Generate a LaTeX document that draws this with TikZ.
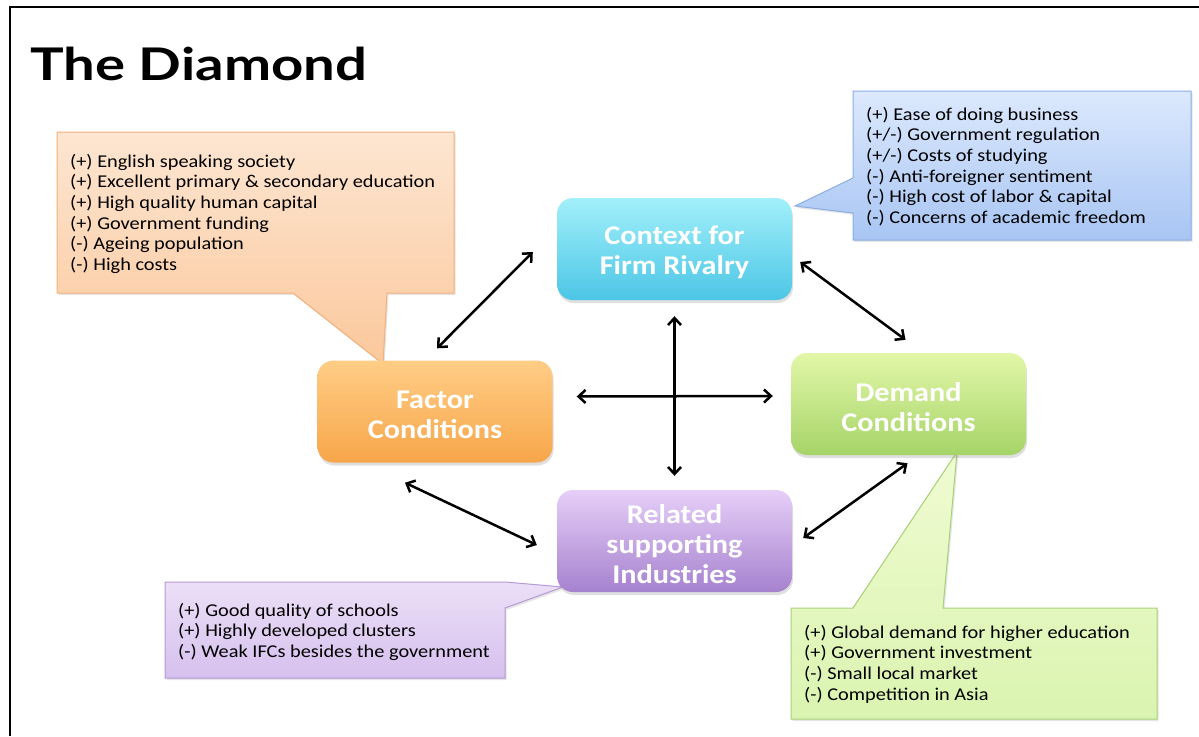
\documentclass[tikz,border=0pt]{standalone}
\usepackage{fontspec}
\setmainfont{Carlito}[FakeStretch=1.12]
\newfontfamily\calfont{Carlito}[FakeStretch=1.13]
\newfontfamily\titlefont{Lato}[FakeStretch=1.25]
\usetikzlibrary{shadows,arrows.meta}
\definecolor{cyanT}{HTML}{A2F0FA}
\definecolor{cyanB}{HTML}{4CC6E6}
\definecolor{oraT}{HTML}{FFCD85}
\definecolor{oraB}{HTML}{F7A64A}
\definecolor{grnT}{HTML}{E2F7A8}
\definecolor{grnB}{HTML}{A6D468}
\definecolor{purT}{HTML}{E6CFF8}
\definecolor{purB}{HTML}{A682CE}
\definecolor{coT}{HTML}{FDE6D2}
\definecolor{coB}{HTML}{FBC89C}
\definecolor{coD}{HTML}{F4B078}
\definecolor{cbT}{HTML}{DCE9FD}
\definecolor{cbB}{HTML}{A8C5F3}
\definecolor{cbD}{HTML}{8AAEE4}
\definecolor{cpT}{HTML}{ECDFF7}
\definecolor{cpB}{HTML}{D6C0EE}
\definecolor{cpD}{HTML}{B49AD6}
\definecolor{cgT}{HTML}{F0FBD2}
\definecolor{cgB}{HTML}{DAF4B0}
\definecolor{cgD}{HTML}{A8D27A}
\begin{document}
\begin{tikzpicture}[x=1pt,y=-1pt,
  box/.style={rounded corners=16pt, text=white, align=center, inner sep=0pt,
    minimum width=235pt, minimum height=102pt,
    font=\bfseries\fontsize{27}{30}\selectfont,
    drop shadow={opacity=0.25, shadow xshift=1pt, shadow yshift=-3pt}},
  callout/.style={line width=1pt, drop shadow={opacity=0.2, shadow xshift=1.5pt, shadow yshift=-2pt}},
  ctext/.style={anchor=north west, align=left, inner sep=0pt, font=\calfont\fontsize{18}{20.6}\selectfont},
  dbl/.style={line width=2.5pt, {Straight Barb[length=7pt,width=13pt,line width=2.5pt]}-{Straight Barb[length=7pt,width=13pt,line width=2.5pt]}}
]
\useasboundingbox (0,0) rectangle (1199,736);
\fill[white] (0,0) rectangle (1199,736);
\draw[line width=2pt] (10,736) -- (10,7) -- (1199,7);

\node[anchor=base west, inner sep=0pt, font=\titlefont\bfseries\fontsize{45}{45}\selectfont] (title) at (30,80) {The Diamond};

% callouts
\path[callout, draw=coD, top color=coT, bottom color=coB]
  (57,132) -- (454,132) -- (454,293) -- (387,293) -- (383,364) -- (293,293) -- (57,293) -- cycle;
\node[ctext] (ftxt) at (70,154) {(+) English speaking society\\(+) Excellent primary \& secondary education\\(+) High quality human capital\\(+) Government funding\\(-) Ageing population\\(-) High costs};

\path[callout, draw=cbD, top color=cbT, bottom color=cbB]
  (853,91) -- (1191,91) -- (1191,240) -- (853,240) -- (853,213) -- (795,206) -- (853,178) -- cycle;
\node[ctext] (ctxt) at (866,107) {(+) Ease of doing business\\(+/-) Government regulation\\(+/-) Costs of studying\\(-) Anti-foreigner sentiment\\(-) High cost of labor \& capital\\(-) Concerns of academic freedom};

\path[callout, draw=cpD, top color=cpT, bottom color=cpB]
  (165,582) -- (505,582) -- (563,587) -- (505,608) -- (505,678) -- (165,678) -- cycle;
\node[ctext] (rtxt) at (178,603) {(+) Good quality of schools\\(+) Highly developed clusters\\(-) Weak IFCs besides the government};

\path[callout, draw=cgD, top color=cgT, bottom color=cgB]
  (791,608) -- (853,608) -- (957,452) -- (943,608) -- (1157,608) -- (1157,719) -- (791,719) -- cycle;
\node[ctext] (dtxt) at (804,625) {(+) Global demand for higher education\\(+) Government investment\\(-) Small local market\\(-) Competition in Asia};

% main boxes
\node[box, top color=cyanT, bottom color=cyanB] (ctx) at (674.5,249) {\rule{0pt}{26pt}Context for\\Firm Rivalry};
\node[box, top color=oraT, bottom color=oraB] (fac) at (435,411.5) {\rule{0pt}{25pt}Factor\\Conditions};
\node[box, top color=grnT, bottom color=grnB] (dem) at (908.5,404) {\rule{0pt}{25pt}Demand\\Conditions};
\node[box, top color=purT, bottom color=purB] (rel) at (674.5,541) {\rule{0pt}{26pt}Related\\supporting\\Industries};

% arrows
\draw[dbl] ([shift={(2,-12)}]fac.north) -- ([shift={(-24,3)}]ctx.west);
\draw[dbl] ([shift={(8,13)}]ctx.east) -- ([shift={(-3,-13)}]dem.north);
\draw[dbl] ([shift={(24,-15)}]fac.east) -- ([shift={(-18,-8)}]dem.west);
\draw[dbl] ([shift={(0,16)}]ctx.south) -- ([shift={(0,-14)}]rel.north);
\draw[dbl] ([shift={(-30,20)}]fac.south) -- ([shift={(-20,4)}]rel.west);
\draw[dbl] ([shift={(11,-3)}]rel.east) -- ([shift={(-1,8)}]dem.south);
\end{tikzpicture}
\end{document}
